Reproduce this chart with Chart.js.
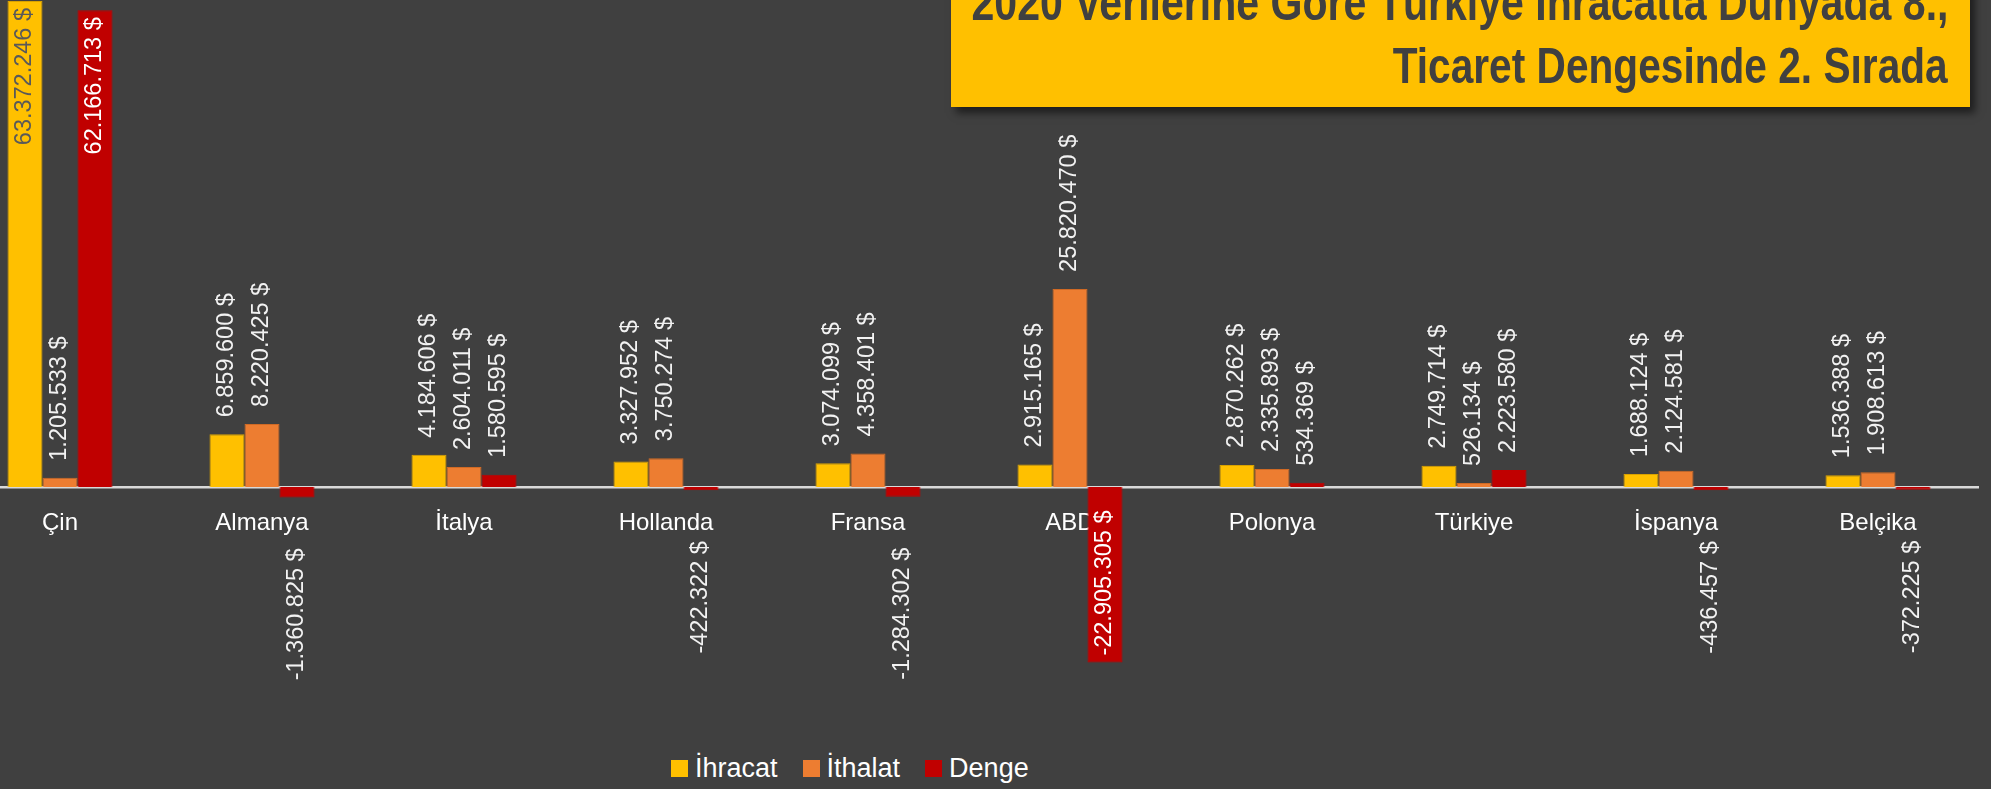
<!DOCTYPE html>
<html lang="tr">
<head>
<meta charset="utf-8">
<title>2020 İhracat / İthalat / Denge</title>
<script src="https://cdn.jsdelivr.net/npm/chart.js@4.4.1/dist/chart.umd.min.js"></script>
<style>
    html, body {
        margin: 0;
        padding: 0;
        background: #404040;
    }
    body {
        width: 1991px;
        height: 789px;
        overflow: hidden;
        position: relative;
        font-family: 'Liberation Sans', Arial, sans-serif;
    }
    #grafikWrap {
        position: absolute;
        left: -41px;
        top: 0;
        width: 2020px;
        height: 740px;
    }
    #baslikKutu {
        position: absolute;
        left: 951px;
        top: -20px;
        width: 1019px;
        height: 127px;
        background: #ffc000;
        box-shadow: 5px 6px 8px rgba(0, 0, 0, 0.55);
    }
    .baslikSatir {
        position: absolute;
        right: 22px;
        font-size: 50px;
        line-height: 50px;
        font-weight: bold;
        color: #404040;
        white-space: nowrap;
    }
    .baslikSatir span {
        display: inline-block;
        transform-origin: right center;
    }
    #legend {
        position: absolute;
        left: 671px;
        top: 751px;
        height: 34px;
        display: flex;
        align-items: center;
        color: #ffffff;
        font-size: 27px;
    }
    .legItem {
        display: flex;
        align-items: center;
        margin-right: 25px;
    }
    .legBox {
        width: 17px;
        height: 17px;
        margin-right: 7px;
    }
</style>
</head>
<body>

<div id="grafikWrap"><canvas id="ticaretChart"></canvas></div>

<div id="baslikKutu">
    <div class="baslikSatir" id="satir1" style="top:-2px"><span>2020 Verilerine Göre Türkiye İhracatta Dünyada 8.,</span></div>
    <div class="baslikSatir" id="satir2" style="top:61px"><span>Ticaret Dengesinde 2. Sırada</span></div>
</div>

<div id="legend"></div>

<script>
// ===== Veriler (2020, bin $) =====
const ulkeler = ['Çin', 'Almanya', 'İtalya', 'Hollanda', 'Fransa', 'ABD', 'Polonya', 'Türkiye', 'İspanya', 'Belçika'];
const ihracat = [63372246, 6859600, 4184606, 3327952, 3074099, 2915165, 2870262, 2749714, 1688124, 1536388];
const ithalat = [1205533, 8220425, 2604011, 3750274, 4358401, 25820470, 2335893, 526134, 2124581, 1908613];
const denge = [62166713, -1360825, 1580595, -422322, -1284302, -22905305, 534369, 2223580, -436457, -372225];

const seriAdlari = ['İhracat', 'İthalat', 'Denge'];
const renkler = ['#ffc000', '#ed7d31', '#c00000'];
const kenarRenkleri = ['#d9a200', '#d06a25', '#c00000'];
const icYaziRenkleri = ['#595959', '#ffffff', '#ffffff'];

const yaziFont = "'Liberation Sans', Arial, sans-serif";

// 1234567 -> "1.234.567 $"
function paraFormat(v) {
    const s = Math.abs(v).toString().replace(/\B(?=(\d{3})+(?!\d))/g, '.');
    return (v < 0 ? '-' : '') + s + ' $';
}

// Çubuk etiketleri (dikey yazı, dışarıya sığmazsa içeri)
const degerEtiketleri = {
    id: 'degerEtiketleri',
    afterDatasetsDraw(chart) {
        const ctx = chart.ctx;
        const alan = chart.chartArea;
        const disOfset = 17;
        const negOfset = 51;
        const icOfset = 7;
        ctx.save();
        ctx.font = `23.5px ${yaziFont}`;
        chart.data.datasets.forEach((ds, di) => {
            const meta = chart.getDatasetMeta(di);
            meta.data.forEach((bar, i) => {
                const v = ds.data[i];
                const yazi = paraFormat(v);
                const uzunluk = ctx.measureText(yazi).width;
                const uc = bar.y;
                let y0, hiza, renk = '#f2f2f2';
                if (v >= 0) {
                    if (uc - disOfset - uzunluk >= alan.top) {
                        y0 = uc - disOfset; hiza = 'left';
                    } else {
                        y0 = uc + icOfset; hiza = 'right'; renk = icYaziRenkleri[di];
                    }
                } else {
                    if (uc + negOfset + uzunluk <= alan.bottom) {
                        y0 = uc + negOfset; hiza = 'right';
                    } else {
                        y0 = uc - icOfset; hiza = 'left'; renk = icYaziRenkleri[di];
                    }
                }
                ctx.save();
                ctx.translate(bar.x, y0);
                ctx.rotate(-Math.PI / 2);
                ctx.textAlign = hiza;
                ctx.textBaseline = 'middle';
                ctx.fillStyle = renk;
                ctx.fillText(yazi, 0, 0);
                ctx.restore();
            });
        });
        ctx.restore();
    }
};

const ctxTicaret = document.getElementById('ticaretChart').getContext('2d');

new Chart(ctxTicaret, {
    type: 'bar',
    data: {
        labels: ulkeler,
        datasets: [ihracat, ithalat, denge].map((d, k) => ({
            label: seriAdlari[k],
            data: d,
            backgroundColor: renkler[k],
            borderColor: kenarRenkleri[k],
            borderWidth: 1,
            categoryPercentage: 0.52,
            barPercentage: 1
        }))
    },
    options: {
        responsive: true,
        maintainAspectRatio: false,
        animation: false,
        layout: { padding: 0 },
        plugins: {
            legend: { display: false },
            title: { display: false },
            tooltip: { enabled: false }
        },
        scales: {
            x: {
                position: { y: 0 },
                z: 1,
                grid: { display: false, drawTicks: false },
                border: { display: true, color: '#d9d9d9', width: 2.5 },
                ticks: {
                    color: '#ffffff',
                    padding: 22,
                    font: { family: yaziFont, size: 24 }
                }
            },
            y: {
                display: false,
                min: -33000000,
                max: 63500000
            }
        }
    },
    plugins: [degerEtiketleri]
});

// ===== Lejant =====
const legend = document.getElementById('legend');
seriAdlari.forEach((ad, k) => {
    const item = document.createElement('div');
    item.className = 'legItem';
    item.innerHTML = `<div class="legBox" style="background:${renkler[k]}"></div><span>${ad}</span>`;
    legend.appendChild(item);
});

// ===== Başlık: dar (condensed) görünüm için yatay sıkıştırma =====
[['satir1', 977], ['satir2', 555]].forEach(([id, hedef]) => {
    const span = document.querySelector(`#${id} span`);
    const w = span.getBoundingClientRect().width;
    span.style.transform = `scaleX(${hedef / w})`;
});
</script>
</body>
</html>
